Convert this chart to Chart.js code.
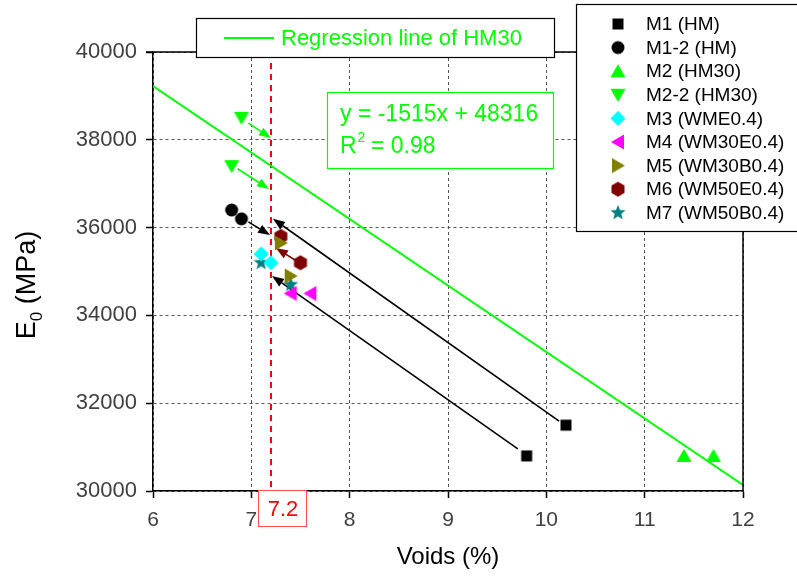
<!DOCTYPE html>
<html>
<head>
<meta charset="utf-8">
<script src="https://cdn.jsdelivr.net/npm/chart.js@4/dist/chart.umd.min.js"></script>
<style>
html, body { margin: 0; padding: 0; background: #fff; }
canvas { display: block; }
</style>
</head>
<body>
<canvas id="myChart" width="797" height="581"></canvas>
<script>
// --- data ---
var xTicks = [6, 7, 8, 9, 10, 11, 12];
var yTicks = [30000, 32000, 34000, 36000, 38000, 40000];

var m1X = [9.8, 10.2],  m1Y = [30800, 31500];
var m12X = [6.8, 6.9],  m12Y = [36400, 36200];
var m2X = [11.4, 11.7], m2Y = [30800, 30800];
var m22X = [6.9, 6.8],  m22Y = [38500, 37400];
var m3X = [7.1, 7.2],   m3Y = [35400, 35200];
var m4X = [7.4, 7.6],   m4Y = [34500, 34500];
var m5X = [7.3, 7.4],   m5Y = [35650, 34900];
var m6X = [7.3, 7.5],   m6Y = [35800, 35200];
var m7X = [7.1, 7.4],   m7Y = [35200, 34700];

// regression line of HM30 (y = -1515x + 48316) at x = 6 and 12
var regX = [6, 12];
var regY = [39226, 30136];

// arrows: start / end in data units
var arrowFromX = [9.71, 10.13, 6.97, 6.97, 6.86, 7.46];
var arrowFromY = [30960, 31590, 36130, 38380, 37340, 35240];
var arrowToX   = [7.21, 7.22, 7.19, 7.20, 7.18, 7.25];
var arrowToY   = [34900, 36200, 35830, 38040, 36880, 35535];
var arrowColor = ["#000000", "#000000", "#000000", "#00ff00", "#00ff00", "#800000"];

var markX = 7.2;

function pts(xs, ys) {
    return xs.map(function (x, i) { return {x: x, y: ys[i]}; });
}

// marker images
function makeMarker(shape, color) {
    var c = document.createElement("canvas");
    c.width = 18; c.height = 18;
    var g = c.getContext("2d");
    g.fillStyle = color;
    g.translate(9, 9);
    g.beginPath();
    if (shape === "square") {
        g.rect(-5.5, -5.5, 11, 11);
    } else if (shape === "circle") {
        g.arc(0, 0, 6.5, 0, Math.PI * 2);
    } else if (shape === "up") {
        g.moveTo(0, -7); g.lineTo(7.5, 6); g.lineTo(-7.5, 6);
    } else if (shape === "down") {
        g.moveTo(0, 7); g.lineTo(7.5, -6); g.lineTo(-7.5, -6);
    } else if (shape === "left") {
        g.moveTo(-7, 0); g.lineTo(6, -7.5); g.lineTo(6, 7.5);
    } else if (shape === "right") {
        g.moveTo(7, 0); g.lineTo(-6, -7.5); g.lineTo(-6, 7.5);
    } else if (shape === "diamond") {
        g.moveTo(0, -7.5); g.lineTo(7.5, 0); g.lineTo(0, 7.5); g.lineTo(-7.5, 0);
    } else if (shape === "hex") {
        for (var i = 0; i < 6; i++) {
            var a = -Math.PI / 2 + i * Math.PI / 3;
            g.lineTo(7.5 * Math.cos(a), 7.5 * Math.sin(a));
        }
    } else if (shape === "star") {
        for (var j = 0; j < 10; j++) {
            var r = j % 2 === 0 ? 8 : 3.4;
            var b = -Math.PI / 2 + j * Math.PI / 5;
            g.lineTo(r * Math.cos(b), r * Math.sin(b));
        }
    }
    g.closePath();
    g.fill();
    return c;
}

var seriesNames = ["M1 (HM)", "M1-2 (HM)", "M2 (HM30)", "M2-2 (HM30)", "M3 (WME0.4)",
                   "M4 (WM30E0.4)", "M5 (WM30B0.4)", "M6 (WM50E0.4)", "M7 (WM50B0.4)"];
var seriesX = [m1X, m12X, m2X, m22X, m3X, m4X, m5X, m6X, m7X];
var seriesY = [m1Y, m12Y, m2Y, m22Y, m3Y, m4Y, m5Y, m6Y, m7Y];
var seriesShape = ["square", "circle", "up", "down", "diamond", "left", "right", "hex", "star"];
var seriesColor = ["#000000", "#000000", "#00ff00", "#00ff00", "#00ffff",
                   "#ff00ff", "#808000", "#800000", "#008080"];

var markers = seriesShape.map(function (s, i) { return makeMarker(s, seriesColor[i]); });

var datasets = [{
    type: "line",
    label: "Regression line of HM30",
    data: pts(regX, regY),
    borderColor: "#00ff00",
    borderWidth: 2,
    pointRadius: 0,
    fill: false
}];
seriesNames.forEach(function (name, i) {
    datasets.push({
        type: "scatter",
        label: name,
        data: pts(seriesX[i], seriesY[i]),
        pointStyle: markers[i],
        backgroundColor: seriesColor[i],
        borderColor: seriesColor[i]
    });
});

var FONT = "'Liberation Sans', Arial, sans-serif";

var decor = {
    id: "decor",
    beforeDatasetsDraw: function (chart) {
        var ctx = chart.ctx, a = chart.chartArea;
        var xs = chart.scales.x, ys = chart.scales.y;
        // red marker line at 7.2
        var px = xs.getPixelForValue(markX);
        ctx.save();
        ctx.strokeStyle = "#ff0000";
        ctx.lineWidth = 2;
        ctx.setLineDash([6, 5]);
        ctx.beginPath();
        ctx.moveTo(px, a.top);
        ctx.lineTo(px, a.bottom);
        ctx.stroke();
        ctx.setLineDash([]);
        // arrows
        for (var i = 0; i < arrowFromX.length; i++) {
            var x1 = xs.getPixelForValue(arrowFromX[i]), y1 = ys.getPixelForValue(arrowFromY[i]);
            var x2 = xs.getPixelForValue(arrowToX[i]), y2 = ys.getPixelForValue(arrowToY[i]);
            var ang = Math.atan2(y2 - y1, x2 - x1);
            var len = 12, hw = 4.5;
            var bx = x2 - len * Math.cos(ang), by = y2 - len * Math.sin(ang);
            ctx.strokeStyle = arrowColor[i];
            ctx.fillStyle = arrowColor[i];
            ctx.lineWidth = 1.6;
            ctx.beginPath();
            ctx.moveTo(x1, y1);
            ctx.lineTo(bx, by);
            ctx.stroke();
            ctx.beginPath();
            ctx.moveTo(x2, y2);
            ctx.lineTo(bx + hw * Math.sin(ang), by - hw * Math.cos(ang));
            ctx.lineTo(bx - hw * Math.sin(ang), by + hw * Math.cos(ang));
            ctx.closePath();
            ctx.fill();
        }
        ctx.restore();
    },
    afterDraw: function (chart) {
        var ctx = chart.ctx, a = chart.chartArea;
        var xs = chart.scales.x;
        ctx.save();
        // frame top and right
        ctx.strokeStyle = "#000";
        ctx.lineWidth = 1.5;
        ctx.beginPath();
        ctx.moveTo(a.left - 7, a.top);
        ctx.lineTo(a.right, a.top);
        ctx.lineTo(a.right, a.bottom);
        ctx.stroke();

        // 7.2 label box
        var px = xs.getPixelForValue(markX);
        ctx.fillStyle = "#fff";
        ctx.fillRect(px - 12, a.bottom - 1, 48, 36);
        ctx.strokeStyle = "#ff5050";
        ctx.lineWidth = 1;
        ctx.strokeRect(px - 12.5, a.bottom - 0.5, 48, 36);
        ctx.fillStyle = "#ff0000";
        ctx.font = "22px " + FONT;
        ctx.textAlign = "center";
        ctx.textBaseline = "middle";
        ctx.fillText(String(markX), px + 12, a.bottom + 19);

        // regression legend box
        ctx.fillStyle = "#fff";
        ctx.fillRect(196, 18, 359, 40);
        ctx.strokeStyle = "#000";
        ctx.lineWidth = 1.2;
        ctx.strokeRect(196.5, 18.5, 358, 39);
        ctx.strokeStyle = "#00ff00";
        ctx.lineWidth = 2;
        ctx.beginPath();
        ctx.moveTo(224, 38);
        ctx.lineTo(274, 38);
        ctx.stroke();
        ctx.fillStyle = "#00ff00";
        ctx.font = "22px " + FONT;
        ctx.textAlign = "left";
        ctx.textBaseline = "middle";
        ctx.fillText(chart.data.datasets[0].label, 281, 39);

        // equation box
        ctx.fillStyle = "#fff";
        ctx.fillRect(327, 92, 227, 77);
        ctx.strokeStyle = "#00ff00";
        ctx.lineWidth = 1.2;
        ctx.strokeRect(327.5, 92.5, 226, 76);
        ctx.fillStyle = "#00ff00";
        ctx.font = "23px " + FONT;
        ctx.textBaseline = "alphabetic";
        ctx.fillText("y = -1515x + 48316", 340, 121);
        ctx.fillText("R", 340, 153);
        var rw = ctx.measureText("R").width;
        ctx.font = "14px " + FONT;
        ctx.fillText("2", 340 + rw + 1, 142);
        ctx.font = "23px " + FONT;
        ctx.fillText(" = 0.98", 340 + rw + 8, 153);

        // series legend
        ctx.fillStyle = "#fff";
        ctx.fillRect(576, 4, 230, 227);
        ctx.strokeStyle = "#000";
        ctx.lineWidth = 1.2;
        ctx.strokeRect(576.5, 4.5, 230, 227);
        ctx.font = "19px " + FONT;
        ctx.fillStyle = "#000";
        ctx.textBaseline = "middle";
        for (var i = 0; i < seriesNames.length; i++) {
            var yy = 24 + i * 23.6;
            ctx.drawImage(markers[i], 618 - 9, yy - 9);
            ctx.fillStyle = "#000";
            ctx.fillText(seriesNames[i], 646, yy + 1);
        }

        // y-axis title with subscript
        ctx.translate(28, 285);
        ctx.rotate(-Math.PI / 2);
        ctx.fillStyle = "#000";
        ctx.textBaseline = "middle";
        ctx.font = "27px " + FONT;
        var w1 = ctx.measureText("E").width;
        ctx.font = "17px " + FONT;
        var w2 = ctx.measureText("0").width;
        ctx.font = "27px " + FONT;
        var w3 = ctx.measureText(" (MPa)").width;
        var start = -(w1 + w2 + w3) / 2;
        ctx.textAlign = "left";
        ctx.fillText("E", start, 0);
        ctx.font = "17px " + FONT;
        ctx.fillText("0", start + w1, 9);
        ctx.font = "27px " + FONT;
        ctx.fillText(" (MPa)", start + w1 + w2, 0);
        ctx.restore();
    }
};

var ctx = document.getElementById("myChart");
var myChart = new Chart(ctx, {
    data: { datasets: datasets },
    options: {
        responsive: false,
        animation: false,
        layout: { padding: { top: 52, right: 54, left: 0, bottom: 0 } },
        plugins: {
            legend: { display: false },
            tooltip: { enabled: false }
        },
        scales: {
            x: {
                type: "linear",
                min: 6,
                max: 12,
                afterBuildTicks: function (s) { s.ticks = xTicks.map(function (v) { return {value: v}; }); },
                afterFit: function (s) { s.height = 90; },
                ticks: { font: { size: 21, family: FONT }, color: "#404040", padding: 10,
                         callback: function (v) { return String(v); } },
                grid: { color: "#555", lineWidth: 1, tickLength: 7, tickColor: "#000", tickWidth: 1.5 },
                border: { color: "#000", width: 1.5, dash: [3, 3] },
                title: { display: true, text: "Voids (%)", font: { size: 24, family: FONT }, color: "#000",
                         padding: { top: 4, bottom: 9 } }
            },
            y: {
                type: "linear",
                min: 30000,
                max: 40000,
                afterBuildTicks: function (s) { s.ticks = yTicks.map(function (v) { return {value: v}; }); },
                afterFit: function (s) { s.width = 153; },
                ticks: { font: { size: 22, family: FONT }, color: "#404040", padding: 9,
                         callback: function (v) { return String(v); } },
                grid: { color: "#555", lineWidth: 1, tickLength: 7, tickColor: "#000", tickWidth: 1.5 },
                border: { color: "#000", width: 1.5, dash: [3, 3] }
            }
        }
    },
    plugins: [decor]
});
</script>
</body>
</html>
